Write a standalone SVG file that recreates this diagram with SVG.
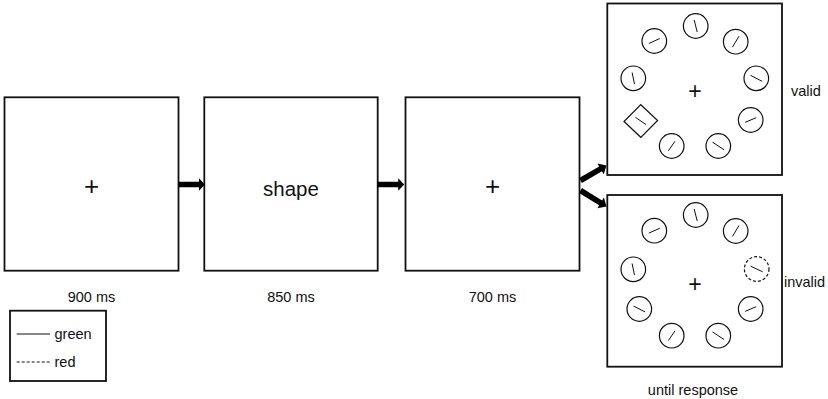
<svg xmlns="http://www.w3.org/2000/svg" width="828" height="399" viewBox="0 0 828 399">
  <style>
    .frame { fill: #fff; stroke: #111; stroke-width: 1.8; }
    .stim { fill: none; stroke: #111; stroke-width: 1.2; }
    .bar { stroke: #111; stroke-width: 1; }
    .dash { stroke-dasharray: 3 2; }
    .fix { font-family: "Liberation Sans", Arial, sans-serif; fill: #111; text-anchor: middle; }
    .lbl { font-family: "Liberation Sans", Arial, sans-serif; fill: #111; font-size: 14.5px; }
    .mid { text-anchor: middle; }
    .arrow { fill: #000; }
  </style>
  <defs>
    <!-- block arrow pointing along +x, origin at tail -->
    <path id="arrowShape" d="M0,-2.8 H20.5 V-6.3 L26.5,0 L20.5,6.3 V2.8 H0 Z"/>
  </defs>

  <rect width="828" height="399" fill="#fff"/>

  <!-- fixation display -->
  <g id="fixation">
    <rect class="frame" x="4.5" y="97.3" width="174" height="173.4"/>
    <text class="fix" x="91.5" y="194.5" font-size="26">+</text>
    <text class="lbl mid" x="91.5" y="302">900 ms</text>
  </g>

  <!-- cue display -->
  <g id="cue">
    <rect class="frame" x="204.3" y="97.3" width="173.4" height="173.4"/>
    <text class="fix" x="291" y="196" font-size="20.5">shape</text>
    <text class="lbl mid" x="291" y="302">850 ms</text>
  </g>

  <!-- delay display -->
  <g id="delay">
    <rect class="frame" x="405.5" y="97.3" width="174" height="173.4"/>
    <text class="fix" x="492.5" y="194.5" font-size="26">+</text>
    <text class="lbl mid" x="492.5" y="302">700 ms</text>
  </g>

  <!-- search display, valid trial -->
  <g id="search-valid">
    <rect class="frame" x="607.3" y="3.5" width="174.7" height="171.5"/>
    <text class="fix" x="695" y="98.8" font-size="23">+</text>
    <g transform="translate(695.7,26)"><circle class="stim" r="12.3"/><line class="bar" x1="-1.5" y1="-6" x2="1.5" y2="6"/></g>
    <g transform="translate(654.3,41)"><circle class="stim" r="12.3"/><line class="bar" x1="-5.5" y1="2.5" x2="5.5" y2="-2.5"/></g>
    <g transform="translate(735.7,41.7)"><circle class="stim" r="12.3"/><line class="bar" x1="-3.3" y1="5.5" x2="3.3" y2="-5.5"/></g>
    <g transform="translate(633.3,78.3)"><circle class="stim" r="12.3"/><line class="bar" x1="-1.2" y1="-5.8" x2="1.2" y2="5.8"/></g>
    <g transform="translate(756.3,78.3)"><circle class="stim" r="12.3"/><line class="bar" x1="-5.8" y1="-3" x2="5.8" y2="3"/></g>
    <g transform="translate(640.8,121)"><polygon class="stim" points="0,-16.3 16.8,-0.5 0,16.3 -16.8,0.5"/><line class="bar" x1="-5.3" y1="-3.6" x2="5.3" y2="3.6"/></g>
    <g transform="translate(750.7,120)"><circle class="stim" r="12.3"/><line class="bar" x1="-5.5" y1="2.3" x2="5.5" y2="-2.3"/></g>
    <g transform="translate(671.7,146)"><circle class="stim" r="12.3"/><line class="bar" x1="-3.3" y1="4.8" x2="3.3" y2="-4.8"/></g>
    <g transform="translate(718.3,146)"><circle class="stim" r="12.3"/><line class="bar" x1="-5.8" y1="-3.8" x2="5.8" y2="3.8"/></g>
    <text class="lbl" x="791" y="96" font-size="15">valid</text>
  </g>

  <!-- search display, invalid trial -->
  <g id="search-invalid">
    <rect class="frame" x="607.3" y="195" width="174.7" height="171.7"/>
    <text class="fix" x="695" y="292" font-size="23">+</text>
    <g transform="translate(695.7,215)"><circle class="stim" r="12.3"/><line class="bar" x1="-1.5" y1="-6" x2="1.5" y2="6"/></g>
    <g transform="translate(654.3,230.7)"><circle class="stim" r="12.3"/><line class="bar" x1="-5.5" y1="2.5" x2="5.5" y2="-2.5"/></g>
    <g transform="translate(735.7,231)"><circle class="stim" r="12.3"/><line class="bar" x1="-3.3" y1="5.5" x2="3.3" y2="-5.5"/></g>
    <g transform="translate(633.3,269.3)"><circle class="stim" r="12.3"/><line class="bar" x1="-1.2" y1="-5.8" x2="1.2" y2="5.8"/></g>
    <g transform="translate(756.7,269)"><circle class="stim dash" r="12.3"/><line class="bar" x1="-6" y1="-2.8" x2="6" y2="2.8"/></g>
    <g transform="translate(639.3,309)"><circle class="stim" r="12.3"/><line class="bar" x1="-5.8" y1="-2.9" x2="5.8" y2="2.9"/></g>
    <g transform="translate(750.7,309)"><circle class="stim" r="12.3"/><line class="bar" x1="-5.5" y1="2.3" x2="5.5" y2="-2.3"/></g>
    <g transform="translate(671.7,335.7)"><circle class="stim" r="12.3"/><line class="bar" x1="-3.3" y1="4.8" x2="3.3" y2="-4.8"/></g>
    <g transform="translate(718.3,335.7)"><circle class="stim" r="12.3"/><line class="bar" x1="-5.8" y1="-3.8" x2="5.8" y2="3.8"/></g>
    <text class="lbl" x="784" y="287" font-size="15">invalid</text>
    <text class="lbl mid" x="693" y="395" font-size="13">until response</text>
  </g>

  <!-- legend -->
  <g id="legend">
    <rect class="frame" x="10" y="310.7" width="96" height="70.3" stroke-width="1.2"/>
    <line class="bar" x1="16.7" y1="334" x2="50" y2="334"/>
    <text class="lbl" x="54.5" y="338.5" font-size="15.5">green</text>
    <line class="bar dash" x1="16.7" y1="362" x2="50" y2="362"/>
    <text class="lbl" x="54.5" y="366.5" font-size="15.5">red</text>
  </g>

  <!-- connectors -->
  <g id="connectors">
    <use href="#arrowShape" class="arrow" transform="translate(178.5,184.5)"/>
    <use href="#arrowShape" class="arrow" transform="translate(377.7,184.5)"/>
    <use href="#arrowShape" class="arrow" transform="translate(580.5,180.5) rotate(-30) scale(1.13,1)"/>
    <use href="#arrowShape" class="arrow" transform="translate(580.5,190.5) rotate(31.5) scale(1.15,1)"/>
  </g>
</svg>
